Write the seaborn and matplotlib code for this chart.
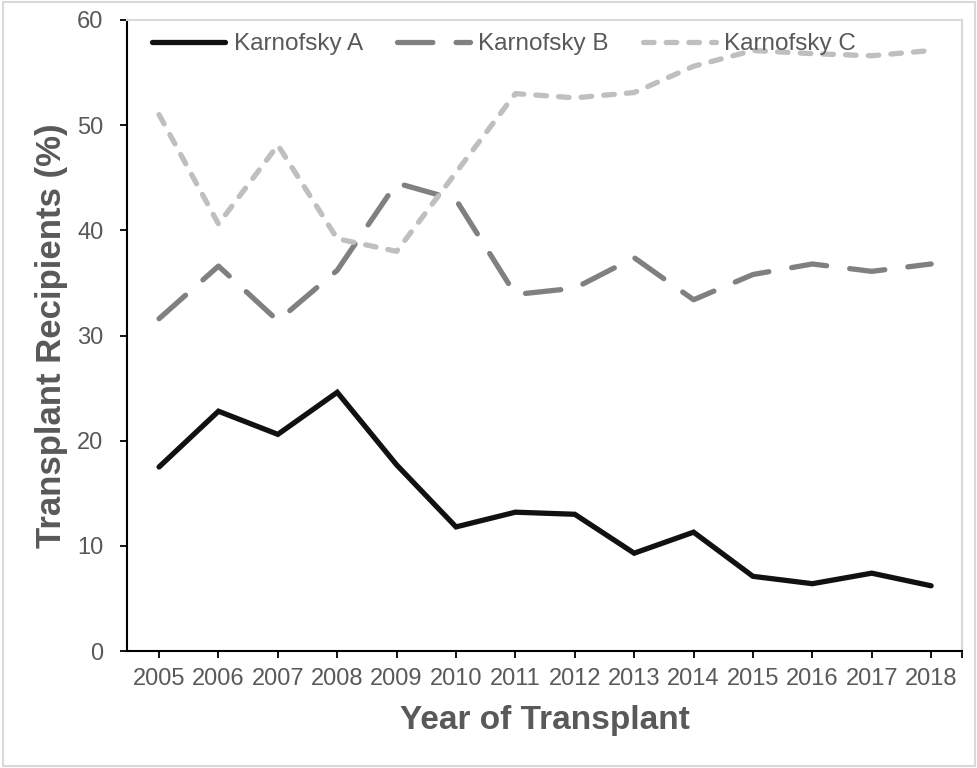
import matplotlib
matplotlib.use("Agg")
import matplotlib.pyplot as plt
from matplotlib.patches import Rectangle
import seaborn as sns
import pandas as pd

years = [2005, 2006, 2007, 2008, 2009, 2010, 2011, 2012, 2013, 2014, 2015, 2016, 2017, 2018]
karnofsky_a = [17.5, 22.8, 20.6, 24.6, 17.7, 11.8, 13.2, 13.0, 9.3, 11.3, 7.1, 6.4, 7.4, 6.2]
karnofsky_b = [31.6, 36.6, 31.4, 36.2, 44.5, 42.9, 33.9, 34.5, 37.4, 33.4, 35.8, 36.8, 36.1, 36.8]
karnofsky_c = [51.0, 40.6, 48.1, 39.2, 38.0, 45.5, 53.0, 52.6, 53.1, 55.6, 57.1, 56.8, 56.6, 57.1]
series_names = ["Karnofsky A", "Karnofsky B", "Karnofsky C"]
y_ticks = [0, 10, 20, 30, 40, 50, 60]

df = pd.DataFrame({
    "year": years * 3,
    "value": karnofsky_a + karnofsky_b + karnofsky_c,
    "series": [series_names[0]] * len(years) + [series_names[1]] * len(years) + [series_names[2]] * len(years),
})

sns.set_theme(style="white")
plt.rcParams["font.family"] = ["Liberation Sans", "DejaVu Sans"]

text_color = "#595959"
palette = {"Karnofsky A": "#111111", "Karnofsky B": "#808080", "Karnofsky C": "#bfbfbf"}
dashes = {"Karnofsky A": "", "Karnofsky B": (6.7, 4.4), "Karnofsky C": (2.0, 2.3)}

fig = plt.figure(figsize=(9.78, 7.68), dpi=100)
ax = fig.add_axes([127 / 978, 1 - 651 / 768, (962 - 127) / 978, (651 - 20) / 768])

sns.lineplot(data=df, x="year", y="value", hue="series", style="series",
             palette=palette, dashes=dashes, linewidth=3.8, ax=ax,
             legend=True)
for line in ax.get_lines():
    line.set_dash_capstyle("round")
    line.set_solid_capstyle("round")
    line.set_solid_joinstyle("miter")

ax.set_xlim(2004.46, 2018.52)
ax.set_ylim(0, 60)
ax.set_xticks(years)
ax.set_xticklabels([str(y) for y in years])
ax.set_xticks([2018.52], minor=True)
ax.set_yticks(y_ticks)

for s in ["left", "bottom"]:
    ax.spines[s].set_color("black")
    ax.spines[s].set_linewidth(1.5)
for s in ["top", "right"]:
    ax.spines[s].set_color("#d9d9d9")
    ax.spines[s].set_linewidth(1.5)

ax.tick_params(axis="both", which="both", direction="out", length=5, width=1.3,
               color="black", labelcolor=text_color, labelsize=17)
ax.tick_params(axis="x", which="both", bottom=True, pad=7)
ax.tick_params(axis="y", which="both", left=True, pad=12)

ax.set_xlabel("Year of Transplant", fontsize=24, fontweight="bold", color=text_color, va="center")
ax.set_ylabel("Transplant Recipients (%)", fontsize=25, fontweight="bold", color=text_color, va="center")
ax.xaxis.set_label_coords(0.5, (651 - 720) / 631)
ax.yaxis.set_label_coords((52 - 127) / 835, 0.5)

handles, labels = ax.get_legend_handles_labels()
leg = ax.legend(handles=handles, labels=labels, ncol=3, loc="upper center",
                bbox_to_anchor=(0.4515, 1.0), frameon=False, fontsize=17.5,
                handlelength=3.0, handletextpad=0.35, columnspacing=1.4,
                borderaxespad=0.15)
for t in leg.get_texts():
    t.set_color(text_color)

fig.patches.append(Rectangle((0.003, 0.003), 0.994, 0.994, transform=fig.transFigure,
                             fill=False, edgecolor="#d9d9d9", linewidth=1.5))

fig.savefig("out.png", dpi=100)
